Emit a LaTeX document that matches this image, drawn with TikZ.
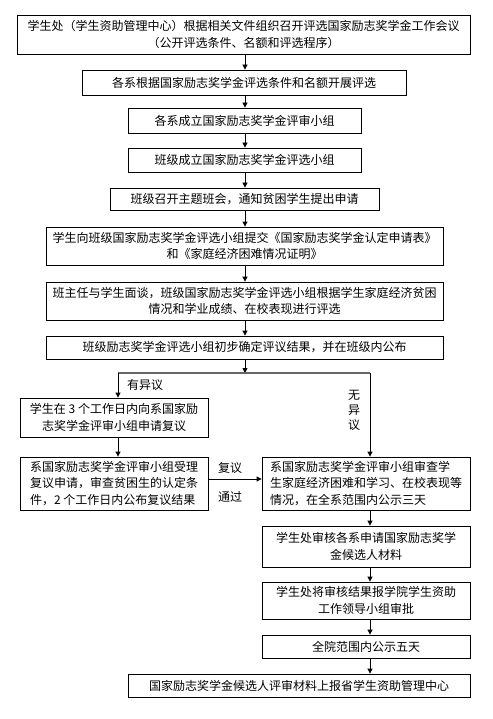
\documentclass[tikz,border=0pt]{standalone}
\usepackage{fontspec}
\setmainfont{Noto Sans CJK SC}
\usetikzlibrary{arrows.meta}
\begin{document}
\begin{tikzpicture}[x=1pt,y=-1pt,
  box/.style={draw=black,line width=0.8pt,inner sep=2pt,align=center,font=\fontsize{12}{16.5}\selectfont,minimum height=#1},
  box/.default=23pt,
  lbl/.style={font=\fontsize{12}{14}\selectfont,inner sep=0pt},
  arr/.style={line width=0.8pt,-{Triangle[length=5pt,width=5pt]}},
  ln/.style={line width=0.8pt}]
\useasboundingbox[fill=white] (0,0) rectangle (492,719);
\node[box=39pt,minimum width=453pt] (b1) at (243.5,34.5) {学生处（学生资助管理中心）根据相关文件组织召开评选国家励志奖学金工作会议\\（公开评选条件、名额和评选程序）};
\node[box=25pt,minimum width=324pt] (b2) at (244,82.5) {各系根据国家励志奖学金评选条件和名额开展评选};
\node[box=25pt,minimum width=233pt] (b3) at (244.5,120.5) {各系成立国家励志奖学金评审小组};
\node[box=24pt,minimum width=233pt] (b4) at (244.5,160) {班级成立国家励志奖学金评选小组};
\node[box=22pt,minimum width=269pt] (b5) at (244.5,199) {班级召开主题班会，通知贫困学生提出申请};
\node[box=38pt,minimum width=397pt] (b6) at (244.5,246) {学生向班级国家励志奖学金评选小组提交《国家励志奖学金认定申请表》\\和《家庭经济困难情况证明》};
\node[box=38pt,minimum width=397pt] (b7) at (244.5,301) {班主任与学生面谈，班级国家励志奖学金评选小组根据学生家庭经济贫困\\情况和学业成绩、在校表现进行评选};
\node[box=23pt,minimum width=397pt] (b8) at (244.5,347.5) {班级励志奖学金评选小组初步确定评议结果，并在班级内公布};
\node[box=39pt,minimum width=188pt] (b9) at (114,417.5) {学生在 3 个工作日内向系国家励\\志奖学金评审小组申请复议};
\node[box=53pt,minimum width=188pt,align=left] (b10) at (114,483.5) {系国家励志奖学金评审小组受理\\复议申请，审查贫困生的认定条\\件，2 个工作日内公布复议结果};
\node[box=53pt,minimum width=208pt,align=left] (b11) at (366,483.5) {系国家励志奖学金评审小组审查学\\生家庭经济困难和学习、在校表现等\\情况，在全系范围内公示三天};
\node[box=41pt,minimum width=208pt] (b12) at (366,546.5) {学生处审核各系申请国家励志奖学\\金候选人材料};
\node[box=37pt,minimum width=208pt] (b13) at (366,600.5) {学生处将审核结果报学院学生资助\\工作领导小组审批};
\node[box=23pt,minimum width=208pt] (b14) at (366,646.5) {全院范围内公示五天};
\node[box=23pt,minimum width=342pt] (b15) at (299,685.5) {国家励志奖学金候选人评审材料上报省学生资助管理中心};
% coordinates
\coordinate (mc) at (245,0);
\coordinate (lc) at (118,0);
\coordinate (rc) at (370,0);
\coordinate (jy) at (0,373);
\coordinate (hy) at (0,479);
\coordinate (jc) at (245,373);
\coordinate (jl) at (118,373);
\coordinate (jr) at (370,373);
% main column
\draw[arr] (b1.south -| mc) -- (b2.north -| mc);
\draw[arr] (b2.south -| mc) -- (b3.north -| mc);
\draw[arr] (b3.south -| mc) -- (b4.north -| mc);
\draw[arr] (b4.south -| mc) -- (b5.north -| mc);
\draw[arr] (b5.south -| mc) -- (b6.north -| mc);
\draw[arr] (b6.south -| mc) -- (b7.north -| mc);
\draw[arr] (b7.south -| mc) -- (b8.north -| mc);
\draw[arr] (b8.south -| mc) -- (jc);
\draw[line width=1.2pt,draw=black!60] (jl) -- (jr);
\draw[arr] (jl) -- (b9.north -| lc);
\draw[arr] (jr) -- (b11.north -| rc);
\draw[arr] (b9.south -| lc) -- (b10.north -| lc);
\draw[arr] (b10.east |- hy) -- (b11.west |- hy);
\draw[arr] (b11.south -| rc) -- (b12.north -| rc);
\draw[arr] (b12.south -| rc) -- (b13.north -| rc);
\draw[arr] (b13.south -| rc) -- (b14.north -| rc);
\draw[arr] (b14.south -| rc) -- (b15.north -| rc);
% labels
\node[lbl] (l1) at (145,385) {有异议};
\node[lbl,align=center,font=\fontsize{12}{15}\selectfont] (l2) at (354,410) {无\\异\\议};
\node[lbl] (l3) at (230,468) {复议};
\node[lbl] (l4) at (230,497) {通过};
\end{tikzpicture}
\end{document}
